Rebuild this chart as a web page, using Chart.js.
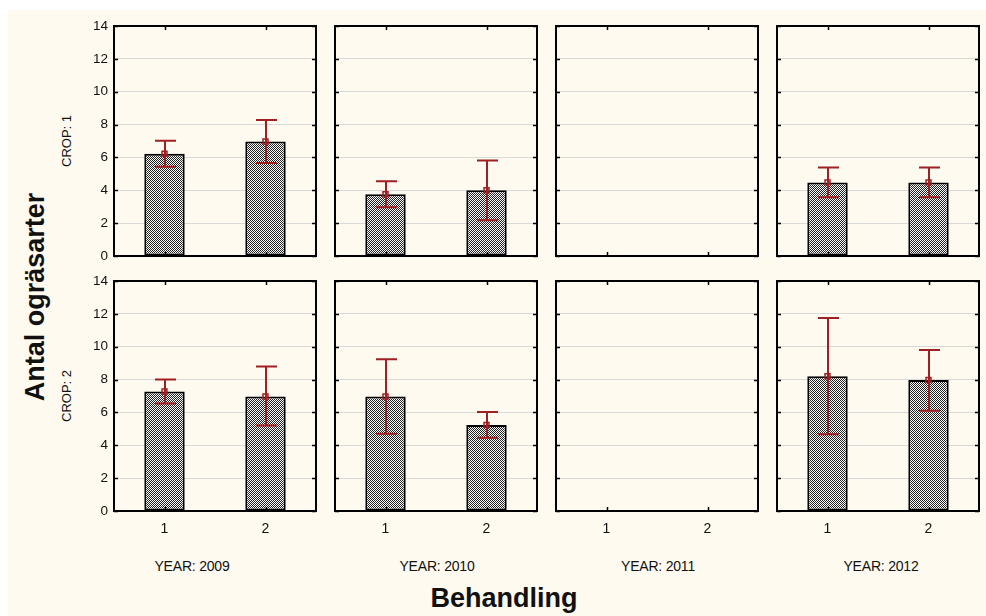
<!DOCTYPE html>
<html>
<head>
<meta charset="utf-8">
<script src="https://cdn.jsdelivr.net/npm/chart.js@4.4.0/dist/chart.umd.min.js"></script>
<style>
  body { margin: 0; background: #fff; width: 986px; height: 616px; overflow: hidden; position: relative; font-family: "Liberation Sans", Arial, sans-serif; }
  #bg { position: absolute; left: 8px; top: 10px; width: 978px; height: 606px; background: #fefaef; }
  canvas { position: absolute; }
  .lbl { position: absolute; color: #111; white-space: nowrap; }
  .rot { transform: translate(-50%, -50%) rotate(-90deg); }
  .ctr { transform: translate(-50%, -50%); }
</style>
</head>
<body>
<div id="bg"></div>
<div id="wrap"></div>
<script>
// x categories (Behandling), panel columns and rows
const behandling = ['1', '2'];
const years = ['2009', '2010', '2011', '2012'];
const crops = ['1', '2'];
const yTicks = [0, 2, 4, 6, 8, 10, 12, 14];

// means and error bar ends, one pair per year (2011 has no data)
const crop1Mean = [[6.22, 6.97], [3.76, 4.0], [null, null], [4.48, 4.48]];
const crop1Low  = [[5.44, 5.66], [2.97, 2.18], [null, null], [3.58, 3.58]];
const crop1High = [[7.01, 8.28], [4.55, 5.82], [null, null], [5.39, 5.39]];
const crop2Mean = [[7.27, 6.97], [6.97, 5.23], [null, null], [8.2, 7.97]];
const crop2Low  = [[6.54, 5.2], [4.7, 4.46], [null, null], [4.67, 6.1]];
const crop2High = [[8.0, 8.8], [9.23, 6.02], [null, null], [11.75, 9.8]];

const means = [crop1Mean, crop2Mean];
const lows = [crop1Low, crop2Low];
const highs = [crop1High, crop2High];

const colLeft = [114, 335, 556, 777];
const rowTop = [26, 281];
const panelW = 202, panelH = 230;
const yearLabelX = [192, 437, 658, 881];
const errColor = '#a01f22';

// checker fill for the bars
const tile = document.createElement('canvas');
tile.width = 2; tile.height = 2;
const tc = tile.getContext('2d');
tc.fillStyle = '#fff'; tc.fillRect(0, 0, 2, 2);
tc.fillStyle = '#222'; tc.fillRect(0, 0, 1, 1); tc.fillRect(1, 1, 1, 1);
const pattern = tc.createPattern(tile, 'repeat');

// error bars, frame and inside tick marks
const panelPlugin = {
  id: 'panel',
  afterDatasetDraw(chart, args) {
    if (args.index !== 0) return;
    const c = chart.ctx, x = chart.scales.x, y = chart.scales.y;
    const lo = chart.options.plugins.panel.lo, hi = chart.options.plugins.panel.hi;
    c.save();
    c.strokeStyle = errColor;
    c.lineWidth = 2;
    lo.forEach((v, i) => {
      if (v == null) return;
      const px = Math.round(x.getPixelForValue(i));
      const y1 = y.getPixelForValue(v), y2 = y.getPixelForValue(hi[i]);
      c.beginPath();
      c.moveTo(px, y1); c.lineTo(px, y2);
      c.moveTo(px - 10, y1); c.lineTo(px + 11, y1);
      c.moveTo(px - 10, y2); c.lineTo(px + 11, y2);
      c.stroke();
    });
    c.restore();
  },
  afterDraw(chart) {
    const c = chart.ctx, a = chart.chartArea, x = chart.scales.x, y = chart.scales.y;
    c.save();
    c.strokeStyle = '#000';
    c.lineWidth = 1.5;
    y.ticks.forEach(t => {
      const py = Math.round(y.getPixelForValue(t.value)) + 0.5;
      c.beginPath();
      c.moveTo(a.left, py); c.lineTo(a.left + 4, py);
      c.moveTo(a.right, py); c.lineTo(a.right - 4, py);
      c.stroke();
    });
    behandling.forEach((b, i) => {
      const px = Math.round(x.getPixelForValue(i)) + 0.5;
      c.beginPath();
      c.moveTo(px, a.top); c.lineTo(px, a.top + 4);
      c.moveTo(px, a.bottom); c.lineTo(px, a.bottom - 4);
      c.stroke();
    });
    c.lineWidth = 2;
    c.strokeRect(a.left, a.top, a.right - a.left, a.bottom - a.top);
    c.restore();
  }
};

const wrap = document.getElementById('wrap');
crops.forEach((crop, r) => {
  years.forEach((year, k) => {
    const padL = k === 0 ? 40 : 8, padR = 8, padT = 10, padB = r === 1 ? 30 : 10;
    const cv = document.createElement('canvas');
    cv.width = panelW + padL + padR;
    cv.height = panelH + padT + padB;
    cv.style.left = (colLeft[k] - padL) + 'px';
    cv.style.top = (rowTop[r] - padT) + 'px';
    wrap.appendChild(cv);

    new Chart(cv, {
      type: 'bar',
      data: {
        labels: behandling,
        datasets: [{
          data: means[r][k],
          backgroundColor: pattern,
          borderColor: '#000',
          borderWidth: 2,
          borderSkipped: false,
          barPercentage: 0.4,
          categoryPercentage: 1,
          order: 1
        }, {
          type: 'line',
          data: means[r][k],
          showLine: false,
          pointStyle: 'rect',
          pointRadius: 3.5,
          pointBorderWidth: 1.5,
          pointBorderColor: errColor,
          pointBackgroundColor: 'rgba(0,0,0,0)',
          order: 0
        }]
      },
      options: {
        responsive: false,
        animation: false,
        layout: { padding: { top: padT, right: padR, left: 0, bottom: 0 } },
        plugins: {
          legend: { display: false },
          tooltip: { enabled: false },
          panel: { lo: lows[r][k], hi: highs[r][k] }
        },
        scales: {
          x: {
            offset: true,
            grid: { display: false },
            border: { display: false },
            ticks: {
              display: r === 1,
              color: '#111',
              padding: 2,
              font: { family: 'Liberation Sans', size: 14 }
            },
            afterFit(s) {
              s.height = padB;
              s.paddingLeft = 0; s.paddingRight = 0;
            }
          },
          y: {
            min: 0, max: 14,
            afterBuildTicks(s) { s.ticks = yTicks.map(v => ({ value: v })); },
            grid: { color: '#d9d9d9', lineWidth: 1, drawTicks: false },
            border: { display: false },
            ticks: {
              display: k === 0,
              color: '#111',
              padding: 6,
              font: { family: 'Liberation Sans', size: 13.5 }
            },
            afterFit(s) {
              s.width = padL;
              s.paddingTop = 0; s.paddingBottom = 0;
            }
          }
        }
      },
      plugins: [panelPlugin]
    });
  });
});

// outer labels
function label(text, x, y, cls, css) {
  const d = document.createElement('div');
  d.className = 'lbl ' + cls;
  d.textContent = text;
  d.style.left = x + 'px';
  d.style.top = y + 'px';
  Object.assign(d.style, css);
  document.body.appendChild(d);
}
years.forEach((year, k) => {
  label('YEAR: ' + year, yearLabelX[k], 566, 'ctr', { fontSize: '14px', letterSpacing: '-0.2px' });
});
crops.forEach((crop, r) => {
  label('CROP: ' + crop, 66, rowTop[r] + panelH / 2, 'rot', { fontSize: '13px' });
});
label('Behandling', 504, 598, 'ctr', { fontSize: '27px', fontWeight: 'bold' });
label('Antal ogräsarter', 35, 297, 'rot', { fontSize: '27px', fontWeight: 'bold' });
</script>
</body>
</html>
